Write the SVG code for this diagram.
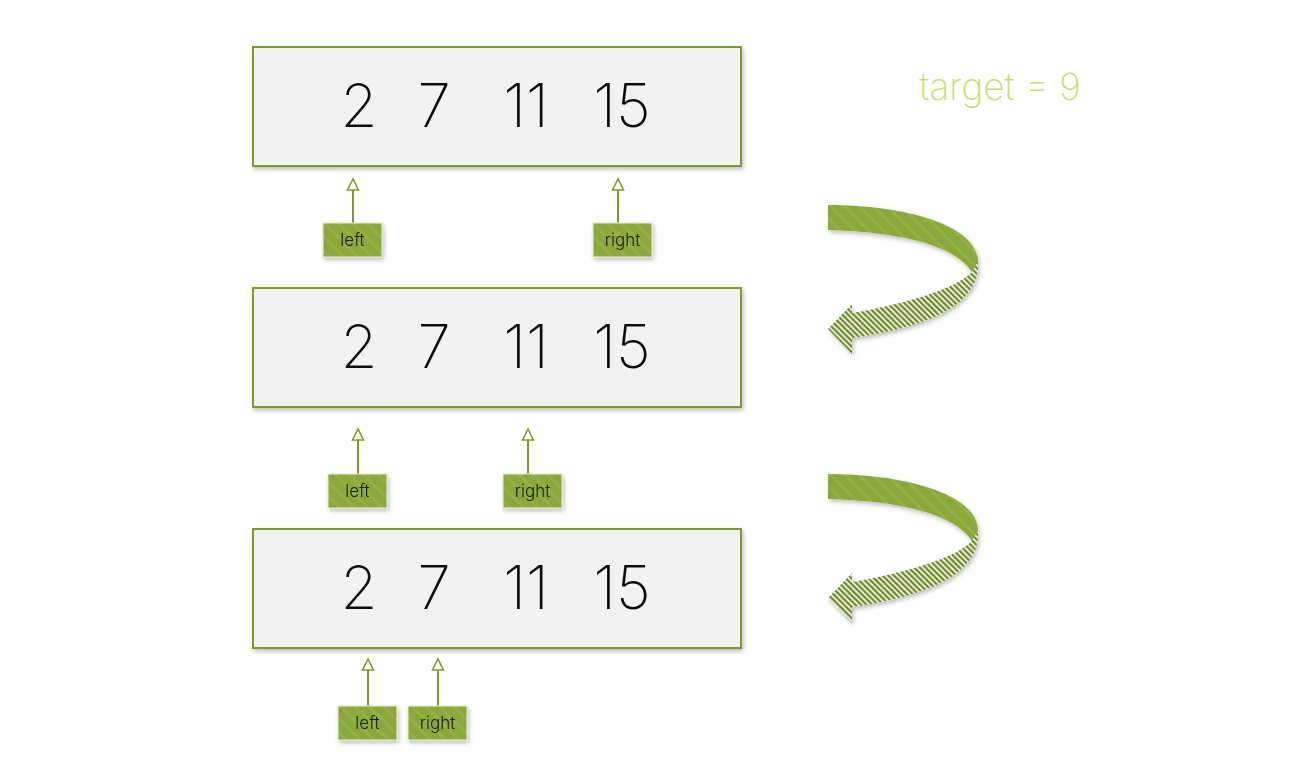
<svg xmlns="http://www.w3.org/2000/svg" width="1313" height="774" viewBox="0 0 1313 774">
<defs>
<filter id="sh" x="-10%" y="-10%" width="130%" height="140%"><feDropShadow dx="1.5" dy="2.5" stdDeviation="2" flood-color="#000" flood-opacity="0.25"/></filter>
<pattern id="stripe" width="10" height="10" patternUnits="userSpaceOnUse" patternTransform="rotate(-45)"><rect width="10" height="10" fill="#8ba83b"/><rect width="3" height="10" fill="#94b147"/></pattern>
<pattern id="hatch" width="4" height="4" patternUnits="userSpaceOnUse" patternTransform="rotate(-45)"><rect width="4" height="4" fill="#ffffff"/><rect width="2.4" height="4" fill="#6f8a2a"/></pattern>
</defs>
<style>
.box{fill:#f2f2f2;stroke:#7f9a2a;stroke-width:2}
.num{font-family:Inter,"Open Sans","Liberation Sans",sans-serif;font-weight:200;font-size:60px;fill:#111;text-anchor:middle}
.lab{fill:url(#stripe);stroke:#e6edd2;stroke-width:1}
.lt{font-family:Inter,"Open Sans","Liberation Sans",sans-serif;font-weight:300;font-size:17px;fill:#1a1a1a;text-anchor:middle}
.pl{stroke:#7f9a2a;stroke-width:2;fill:none}
.ph{fill:#fff;stroke:#7f9a2a;stroke-width:1.6}
.solid{fill:url(#stripe)}
.hat{fill:url(#hatch)}
</style>
<g id="target"><text x="1000" y="100" font-family="Inter, Open Sans, Liberation Sans, sans-serif" font-weight="200" font-size="37" fill="#c9dc72" text-anchor="middle">target = 9</text></g>
<g id="row1" filter="url(#sh)"><rect class="box" x="253" y="47" width="488" height="119"/>
<text class="num" x="359" y="127">2</text><text class="num" x="434" y="127">7</text><text class="num" x="526" y="127">11</text><text class="num" x="622" y="127">15</text></g>
<g id="row2" filter="url(#sh)"><rect class="box" x="253" y="288" width="488" height="119"/>
<text class="num" x="359" y="368">2</text><text class="num" x="434" y="368">7</text><text class="num" x="526" y="368">11</text><text class="num" x="622" y="368">15</text></g>
<g id="row3" filter="url(#sh)"><rect class="box" x="253" y="529" width="488" height="119"/>
<text class="num" x="359" y="609">2</text><text class="num" x="434" y="609">7</text><text class="num" x="526" y="609">11</text><text class="num" x="622" y="609">15</text></g>
<g id="connectors">
<line class="pl" x1="353" y1="223" x2="353" y2="190"/><polygon class="ph" points="353,179 347.5,190 358.5,190"/>
<line class="pl" x1="618" y1="223" x2="618" y2="190"/><polygon class="ph" points="618,179 612.5,190 623.5,190"/>
<line class="pl" x1="358" y1="474" x2="358" y2="440"/><polygon class="ph" points="358,429 352.5,440 363.5,440"/>
<line class="pl" x1="528" y1="474" x2="528" y2="440"/><polygon class="ph" points="528,429 522.5,440 533.5,440"/>
<line class="pl" x1="368" y1="706" x2="368" y2="670"/><polygon class="ph" points="368,659 362.5,670 373.5,670"/>
<line class="pl" x1="438" y1="706" x2="438" y2="670"/><polygon class="ph" points="438,659 432.5,670 443.5,670"/>
</g>
<g id="left1" filter="url(#sh)"><rect class="lab" x="323" y="223" width="59" height="34"/><text class="lt" x="352.5" y="246">left</text></g>
<g id="right1" filter="url(#sh)"><rect class="lab" x="593" y="223" width="59" height="34"/><text class="lt" x="622.5" y="246">right</text></g>
<g id="left2" filter="url(#sh)"><rect class="lab" x="328" y="474" width="59" height="34"/><text class="lt" x="357.5" y="497">left</text></g>
<g id="right2" filter="url(#sh)"><rect class="lab" x="503" y="474" width="59" height="34"/><text class="lt" x="532.5" y="497">right</text></g>
<g id="left3" filter="url(#sh)"><rect class="lab" x="338" y="706" width="59" height="34"/><text class="lt" x="367.5" y="729">left</text></g>
<g id="right3" filter="url(#sh)"><rect class="lab" x="408" y="706" width="59" height="34"/><text class="lt" x="437.5" y="729">right</text></g>
<g id="turn1" filter="url(#sh)">
<path class="solid" d="M828,205 C905,205 978,225 978,262 L972,272 C955,245 900,232 828,230 Z"/>
<path class="hat" d="M978,262 C980,300 940,325 852,338 L852,354 L828,329 L852,304 L852,313 C900,305 955,290 972,272 Z"/>
</g>
<g id="turn2" filter="url(#sh)">
<path class="solid" d="M828,474 C905,474 978,494 978,531 L972,541 C955,514 900,501 828,499 Z"/>
<path class="hat" d="M978,531 C980,569 940,594 852,607 L852,623 L828,598 L852,573 L852,582 C900,574 955,559 972,541 Z"/>
</g>
</svg>
